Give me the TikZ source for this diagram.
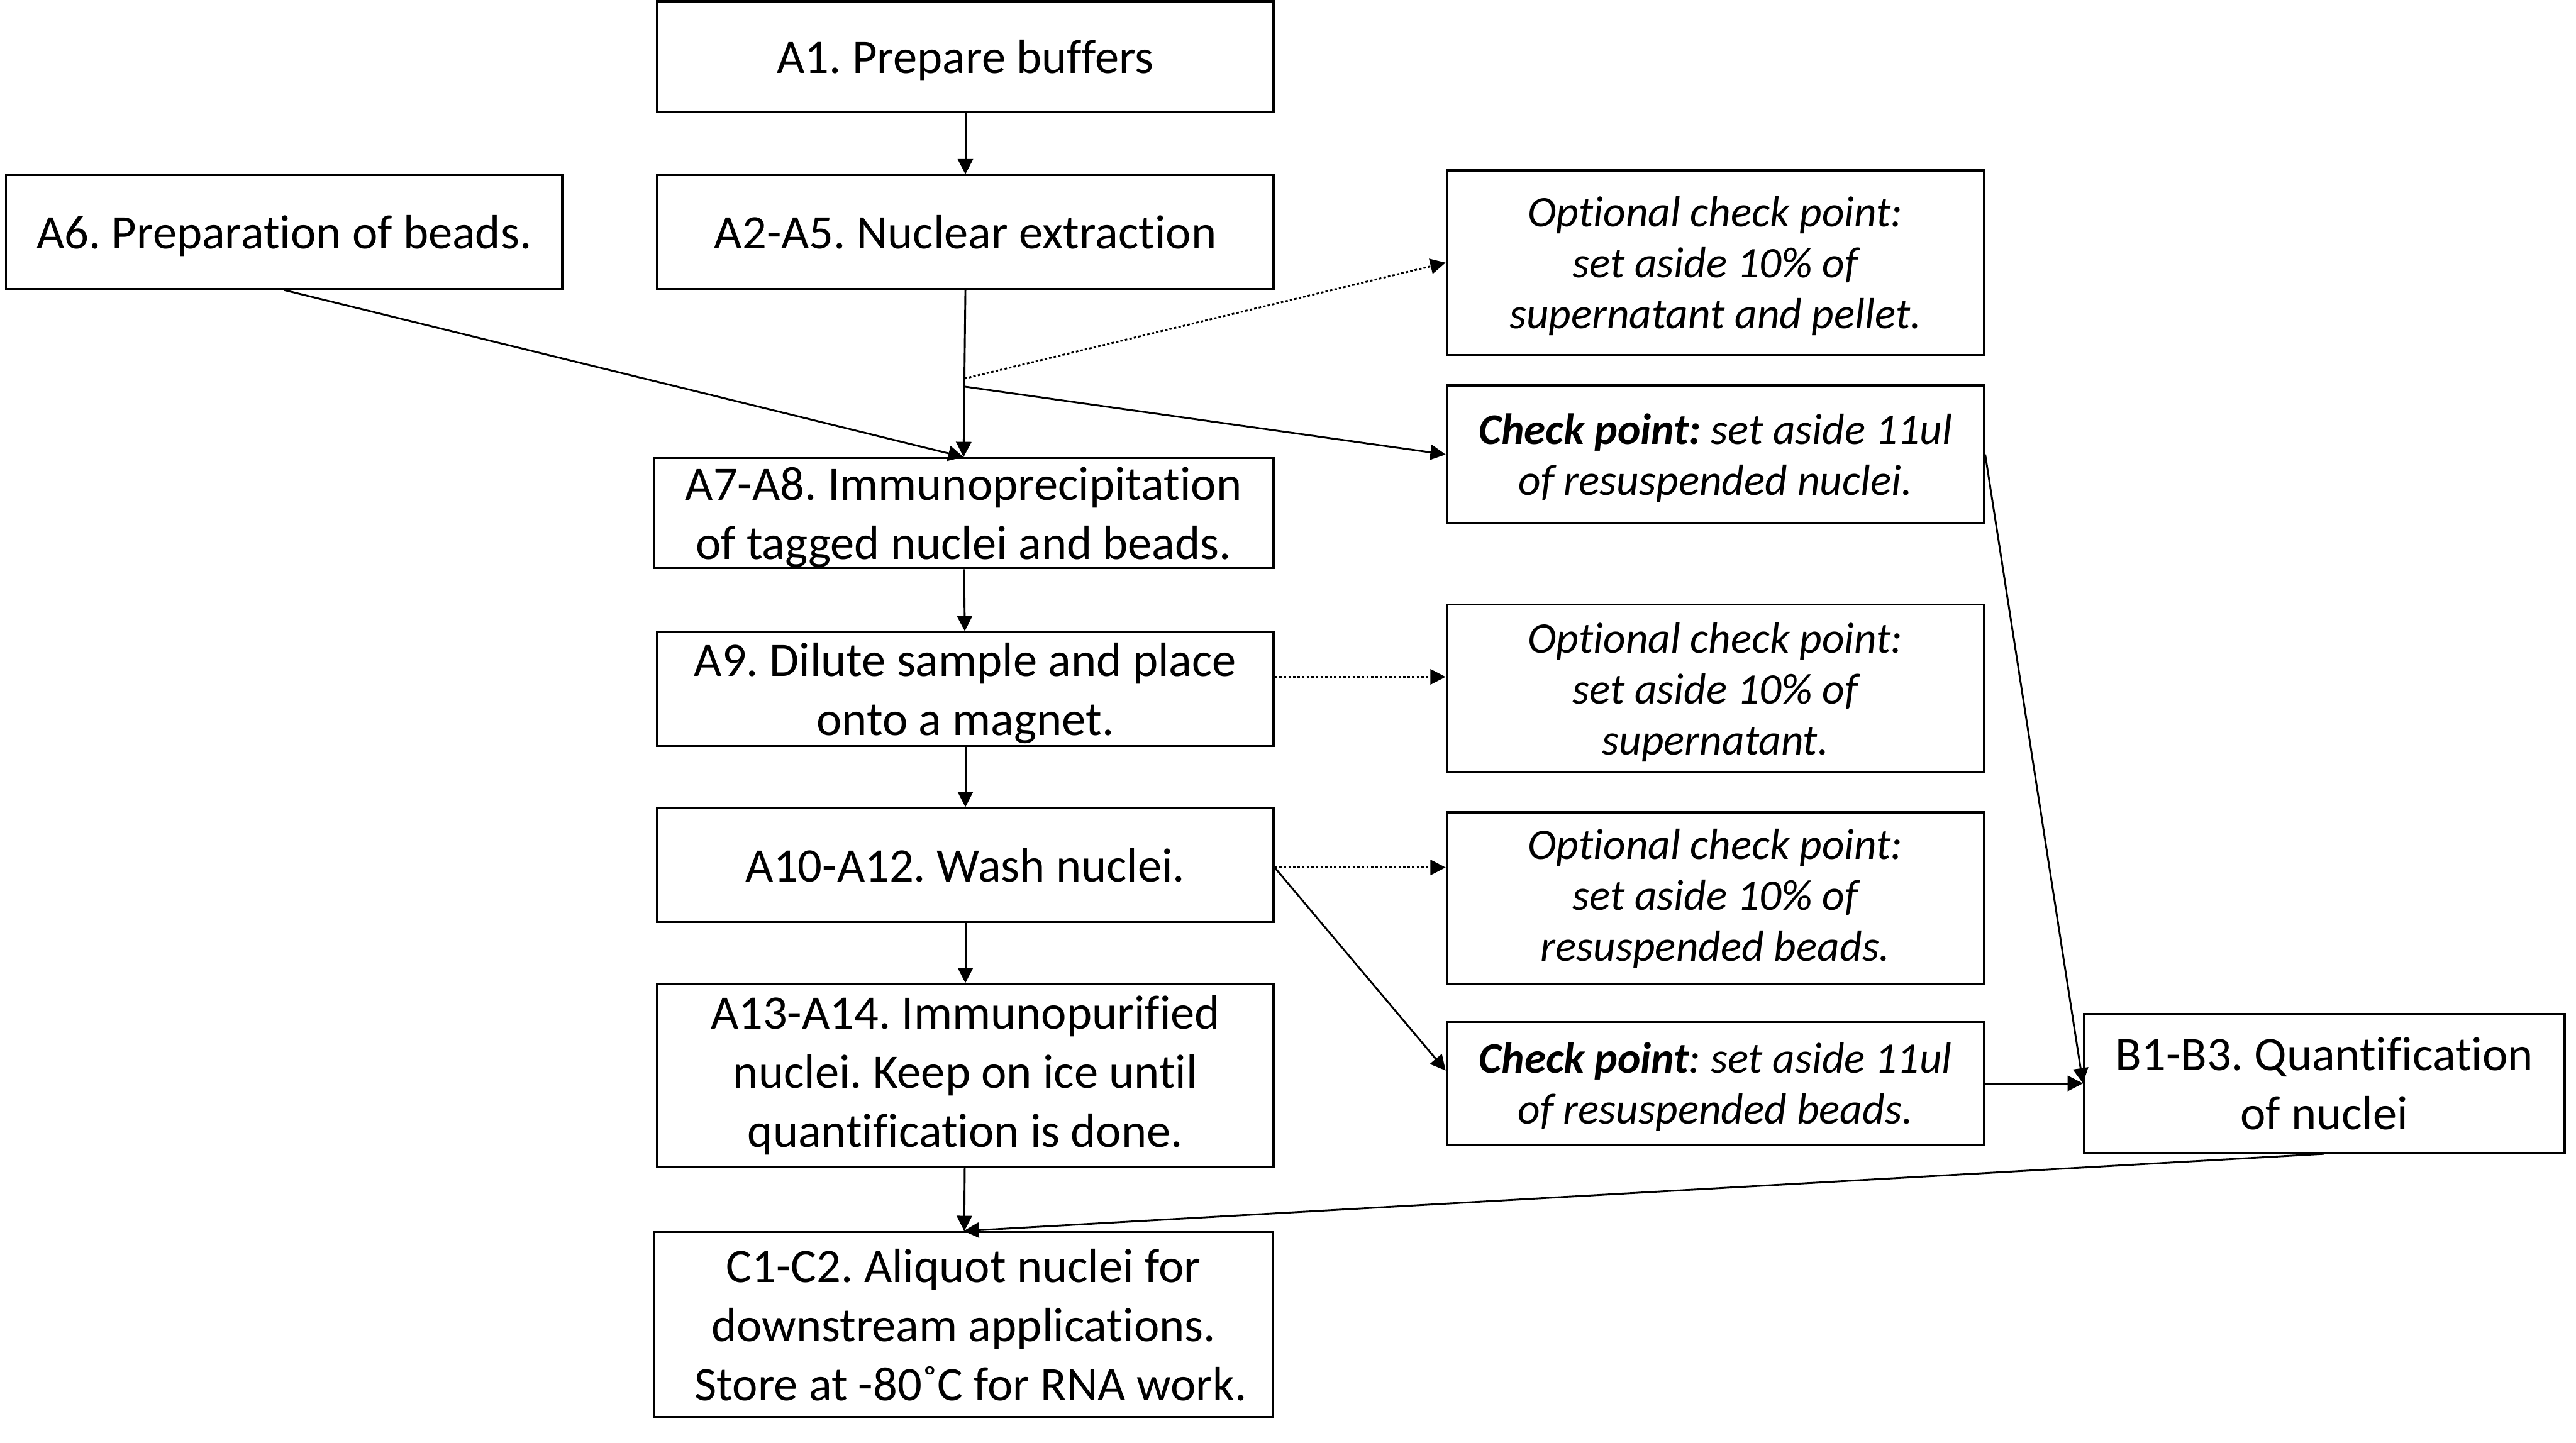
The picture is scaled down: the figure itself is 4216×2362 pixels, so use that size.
\documentclass[tikz,border=0pt]{standalone}
\usepackage{fontspec}
\setmainfont{Carlito}[Ligatures=NoCommon]
\usetikzlibrary{arrows.meta,calc}
\newcommand\mainsz{\frenchspacing\fontsize{22.4pt}{27.5pt}\selectfont}
\newcommand\optsz{\frenchspacing\fontsize{20.3pt}{23.7pt}\selectfont\itshape}
\begin{document}
\begin{tikzpicture}[x=0.01cm,y=-0.01cm,
  box/.style={draw, line width=0.035cm, inner sep=0pt, align=center, font=\mainsz},
  opt/.style={box, font=\optsz},
  nodep/.style={text depth=0pt},
  arr/.style={-{Triangle[length=0.25cm,width=0.25cm]}, line width=0.03cm},
  dotarr/.style={arr, dash pattern=on 0.04cm off 0.035cm}]
\useasboundingbox (0,0) rectangle (4216,2362);
\fill[white] (0,0) rectangle (4216,2362);
% main column
\node[box, nodep, minimum width=10.08cm, minimum height=1.81cm] (A1) at (1580,92.5) {A1. Prepare buffers};
\node[box, nodep, minimum width=9.10cm, minimum height=1.86cm] (A6) at (465,380) {A6. Preparation of beads.};
\node[box, minimum width=10.08cm, minimum height=1.86cm] (A2) at (1580,380) {A2-A5. Nuclear extraction};
\node[box, nodep, minimum width=10.14cm, minimum height=1.80cm] (A7) at (1577,840) {A7-A8. Immunoprecipitation\\of tagged nuclei and beads.};
\node[box, nodep, minimum width=10.08cm, minimum height=1.86cm] (A9) at (1580,1128) {A9. Dilute sample and place\\onto a magnet.};
\node[box, minimum width=10.08cm, minimum height=1.86cm] (A10) at (1580,1416) {A10-A12. Wash nuclei.};
\node[box, minimum width=10.08cm, minimum height=2.99cm] (A13) at (1580,1760.5) {A13-A14. Immunopurified\\nuclei. Keep on ice until\\quantification is done.};
\node[box, minimum width=10.12cm, minimum height=3.03cm] (C1) at (1577,2168.5) {C1-C2. Aliquot nuclei for\\downstream applications.\\\hspace*{0.3em}Store at -80˚C for RNA work.};
% check boxes
\node[opt, nodep, minimum width=8.79cm, minimum height=3.02cm] (O1) at (2807.5,430) {Optional check point:\\set aside 10\% of\\supernatant and pellet.};
\node[opt, nodep, minimum width=8.79cm, minimum height=2.26cm] (C1b) at (2807.5,744) {\textbf{Check point:} set aside 11ul\\of resuspended nuclei.};
\node[opt, nodep, minimum width=8.79cm, minimum height=2.74cm] (O2) at (2807.5,1127) {Optional check point:\\set aside 10\% of\\supernatant.};
\node[opt, minimum width=8.79cm, minimum height=2.81cm] (O3) at (2807.5,1470.5) {Optional check point:\\set aside 10\% of\\resuspended beads.};
\node[opt, nodep, minimum width=8.79cm, minimum height=2.01cm] (C2b) at (2807.5,1773.5) {\textbf{Check point}: set aside 11ul\\of resuspended beads.};
\node[box, minimum width=7.86cm, minimum height=2.27cm] (B1) at (3804,1773.5) {B1-B3. Quantification\\of nuclei};
% connectors
\draw[arr] (A1) -- (A2);
\draw[arr] (A2.south) -- (A7.north);
\draw[arr] (A6.south) -- (A7.north);
\coordinate (br1) at ($(A2.south)!0.53!(A7.north)$);
\coordinate (br2) at ($(A2.south)!0.578!(A7.north)$);
\draw[dotarr] (br1) -- (O1.west);
\draw[arr] (br2) -- (C1b.west);
\draw[arr] (C1b.east) -- (B1.west);
\draw[arr] (A7) -- (A9);
\coordinate (a9out) at ($(A9.east)+(0,-20)$);
\draw[dotarr] (a9out) -- (a9out -| O2.west);
\draw[arr] (A9) -- (A10);
\coordinate (a10out) at ($(A10.east)+(0,4)$);
\draw[dotarr] (a10out) -- (a10out -| O3.west);
\coordinate (c2in) at ($(C2b.west)+(0,-21)$);
\draw[arr] (a10out) -- (c2in);
\draw[arr] (C2b.east) -- (B1.west);
\draw[arr] (A10) -- (A13);
\draw[arr] (A13) -- (C1);
\draw[arr] (B1.south) -- (C1.north);
\end{tikzpicture}
\end{document}
